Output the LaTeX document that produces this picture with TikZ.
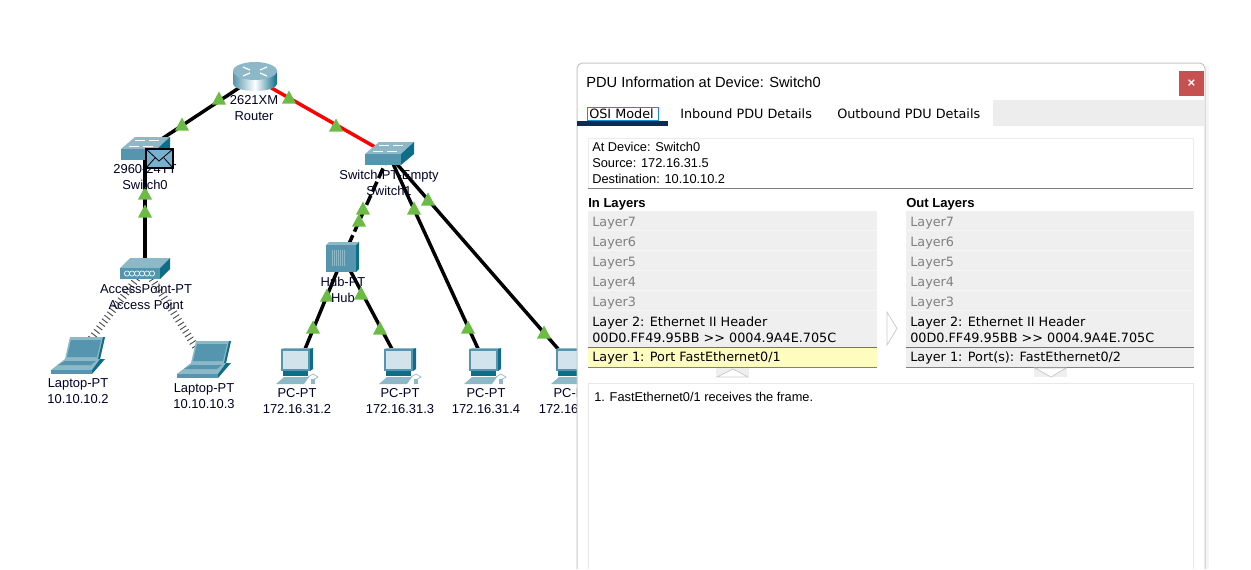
\documentclass[tikz,border=0pt]{standalone}
\usepackage{fontspec}
\usepackage{xcolor}
\setmainfont{Liberation Sans}
\newfontfamily\tabfont{DejaVu Sans}
\definecolor{toplight}{HTML}{8DB8C8}
\definecolor{frontmid}{HTML}{5596AE}
\definecolor{sidedark}{HTML}{0F6D88}
\definecolor{screenlight}{HTML}{D3E3EC}
\definecolor{lighttri}{HTML}{6CBB45}
\definecolor{panelgray}{HTML}{EFEFEF}
\definecolor{navybar}{HTML}{0F2B52}
\definecolor{closered}{HTML}{C75050}
\tikzset{
  link/.style={line width=2.6pt,black},
  devlabel/.style={inner sep=0pt,align=center,font=\fontsize{9.7}{12}\selectfont,text=black!85!blue},
  paneltext/.style={inner sep=0pt,anchor=west,font=\fontsize{9.6}{12}\selectfont},
  tabtext/.style={inner sep=0pt,anchor=west,font=\tabfont\fontsize{9.6}{12}\selectfont},
  layertext/.style={tabtext,text=gray},
  switchicon/.pic={
    \fill[toplight] (-24,-1) -- (-10,-13) -- (25,-13) -- (12,-1) -- cycle;
    \fill[frontmid] (-24,-1) rectangle (12,10);
    \fill[sidedark] (12,-1) -- (25,-13) -- (25,-1) -- (12,10) -- cycle;
    \draw[white,line width=0.6pt] (-16,-4) -- (-6,-4) (-10,-10) -- (0,-10) (4,-10) -- (14,-10) (-2,-4) -- (8,-4);
  },
  hubicon/.pic={
    \fill[toplight] (-17,-12) -- (-14,-15) -- (16,-15) -- (13,-12) -- cycle;
    \fill[frontmid] (-17,-12) rectangle (13,15);
    \fill[sidedark] (13,-12) -- (16,-15) -- (16,12) -- (13,15) -- cycle;
    \foreach \px in {-11,-9,-7,-5,-3,-1,1}
      \draw[toplight,line width=0.5pt] (\px,-7) -- (\px,9);
  },
  apicon/.pic={
    \fill[toplight] (-25,0) -- (-15,-10) -- (25,-10) -- (15,0) -- cycle;
    \fill[frontmid] (-25,0) rectangle (15,11);
    \fill[sidedark] (15,0) -- (25,-10) -- (25,1) -- (15,11) -- cycle;
    \foreach \px in {-18,-13,-8,-3,2,7}
      \draw[white,line width=0.5pt] (\px,5.5) circle (2.6);
  },
  laptopicon/.pic={
    % lid
    \fill[toplight] (-8,-19) -- (27,-19) -- (22,3) -- (-13,3) -- cycle;
    \fill[frontmid] (-7,-16) -- (23,-16) -- (19,1) -- (-11,1) -- cycle;
    \fill[sidedark] (27,-19) -- (22,3) -- (20,3) -- (25,-19) -- cycle;
    % base
    \fill[toplight] (-27,14) -- (-13,3) -- (22,3) -- (14,14) -- cycle;
    \fill[frontmid] (-20,9) -- (-13,5) -- (18,5) -- (13,9) -- cycle;
    \fill[frontmid] (-27,14) rectangle (14,18);
    \fill[sidedark] (14,14) -- (22,3) -- (27,3) -- (14,18) -- cycle;
  },
  pcicon/.pic={
    \fill[toplight] (-17,-17) -- (-14,-18) -- (15,-18) -- (12,-17) -- cycle;
    \fill[frontmid] (-17,-17) rectangle (12,5);
    \fill[sidedark] (12,-17) -- (15,-18) -- (15,3) -- (12,5) -- cycle;
    \fill[screenlight] (-15,-15) rectangle (10,3);
    % stand and keyboard
    \fill[sidedark] (-15,5) rectangle (10,10);
    \fill[toplight] (-22,18) -- (-14,11) -- (11,11) -- (6,18) -- cycle;
    \fill[toplight] (13,13) rectangle (17,18);
    \draw[toplight,line width=0.5pt] (10,11) -- (15,8) -- (20,11) -- (15,14);
  },
}
\begin{document}
\begin{tikzpicture}[x=0.75pt,y=-0.75pt]
  \useasboundingbox (0,0) rectangle (1251,569);
  % devices
  \coordinate (router) at (254,78);
  \coordinate (switch0) at (145,150);
  \coordinate (switch1) at (389,155);
  \coordinate (hub) at (343,257);
  \coordinate (ap) at (145,268);
  \coordinate (laptop0) at (78,356);
  \coordinate (laptop1) at (204,360);
  \coordinate (pc0) at (298,366);
  \coordinate (pc1) at (401,366);
  \coordinate (pc2) at (486,366);
  \coordinate (pc3) at (573,366);
  % links
  \draw[link] (router) -- (switch0);
  \draw[link,red] (router) -- (switch1);
  \draw[link] (switch0) -- (ap);
  \draw[link,dash pattern=on 8pt off 3pt] (switch1) -- (hub);
  \draw[link] (switch1) -- (pc2);
  \draw[link] (switch1) -- (pc3);
  \draw[link] (hub) -- (pc0);
  \draw[link] (hub) -- (pc1);
  \draw[black!70,line width=5.5pt,dash pattern=on 0.7pt off 2.6pt] (ap) -- (laptop0);
  \draw[black!70,line width=5.5pt,dash pattern=on 0.7pt off 2.6pt] (ap) -- (laptop1);
  % icons
  \shade[left color=frontmid,right color=sidedark,middle color=white] (233,71) -- (233,84) arc[start angle=180,end angle=0,x radius=22,y radius=7] -- (277,71) -- cycle;
  \fill[toplight] (255,71) ellipse [x radius=22,y radius=9];
  \draw[white,line width=0.9pt] (243,67) -- (250,70) (267,67) -- (260,70) (243,76) -- (250,73) (267,76) -- (260,73);
  \pic at (switch0) {switchicon};
  \pic at (switch1) {switchicon};
  \pic at (hub) {hubicon};
  \pic at (ap) {apicon};
  \pic at (laptop0) {laptopicon};
  \pic at (laptop1) {laptopicon};
  \pic at (pc0) {pcicon};
  \pic at (pc1) {pcicon};
  \pic at (pc2) {pcicon};
  \pic at (pc3) {pcicon};
  % link lights
  \foreach \tx/\ty in {219/98,182/124,289/97,336/125,145/193,145/211,363/208,359/220,414/208,428/199,468/327,544/332,327/295,313/327,361/293,380/328}
    \fill[lighttri] (\tx-7,\ty+6.5) -- (\tx+7,\ty+6.5) -- (\tx,\ty-6.5) -- cycle;
  % labels
  \node[devlabel] (routerlabel) at (254,108.5) {2621XM\\Router};
  \node[devlabel] (switch0label) at (145,177.5) {2960-24TT\\Switch0};
  \node[devlabel] (switch1label) at (389,182.5) {Switch-PT-Empty\\Switch1};
  \node[devlabel] (hublabel) at (343,289.5) {Hub-PT\\Hub};
  \node[devlabel] (aplabel) at (146,296.5) {AccessPoint-PT\\Access Point};
  \node[devlabel] (laptop0label) at (78,391.5) {Laptop-PT\\10.10.10.2};
  \node[devlabel] (laptop1label) at (204,396.5) {Laptop-PT\\10.10.10.3};
  \node[devlabel] (pc0label) at (297,401.5) {PC-PT\\172.16.31.2};
  \node[devlabel] (pc1label) at (400,401.5) {PC-PT\\172.16.31.3};
  \node[devlabel] (pc2label) at (486,401.5) {PC-PT\\172.16.31.4};
  \node[devlabel] (pc3label) at (573,401.5) {PC-PT\\172.16.31.5};
  % envelope
  \filldraw[fill=cyan!35!frontmid!80!white,draw=black,line width=1.5pt] (146,149) rectangle (173,168);
  \draw[black,line width=0.6pt] (146,149) -- (159,161) -- (173,149) (146,168) -- (155,158) (173,168) -- (164,158);
  % dialog
  \fill[black!4] (1205,66) rectangle (1209,569);
  \filldraw[fill=white,draw=black!22,rounded corners=4pt,line width=0.75pt] (577,569) -- (577,63) -- (1205,63) -- (1205,569);
  \node[inner sep=0pt,anchor=west,font=\fontsize{11}{12}\selectfont] (title) at (586,82) {PDU Information at Device: Switch0};
  \fill[closered] (1179,71) rectangle (1204,96);
  \node[inner sep=0pt,text=white,font=\bfseries\fontsize{10}{10}\selectfont] (closemark) at (1191.5,83.5) {×};
  % tabs
  \fill[black!7] (993,100) rectangle (1204.5,126);
  \fill[navybar] (577,121) rectangle (668,126);
  \draw[cyan!80!blue,line width=0.6pt] (587,107) rectangle (658,120);
  \node[tabtext] (ositab) at (589,113.5) {OSI Model};
  \node[tabtext] (intab) at (680,113.5) {Inbound PDU Details};
  \node[tabtext] (outtab) at (837,113.5) {Outbound PDU Details};
  % device info
  \draw[black!8,line width=0.75pt] (588,188) -- (588,138) -- (1193,138) -- (1193,188);
  \draw[black!50,line width=0.75pt] (588,188) -- (1193,188);
  \node[paneltext] (atdevice) at (592,147) {At Device: Switch0};
  \node[paneltext] (source) at (592,163) {Source: 172.16.31.5};
  \node[paneltext] (destination) at (592,179) {Destination: 10.10.10.2};
  \node[paneltext,font=\bfseries\fontsize{9.8}{12}\selectfont] (inhead) at (588,204) {In Layers};
  \node[paneltext,font=\bfseries\fontsize{9.8}{12}\selectfont] (outhead) at (906,204) {Out Layers};
  % layers
  \foreach \side/\lx/\rx in {in/588/877,out/906/1194} {
    \fill[black!4] (\lx,211) rectangle (\rx,311);
    \foreach \layer/\ly in {7/211,6/231,5/251,4/271,3/291} {
      \fill[panelgray] (\lx,\ly) rectangle (\rx,\ly+19);
      \node[layertext] (\side layer\layer) at (\lx+4,\ly+12) {Layer\layer};
    }
    \fill[panelgray] (\lx,311) rectangle (\rx,347);
    \draw[black!55,line width=0.75pt] (\lx,347) -- (\rx,347);
    \draw[black!50,line width=0.75pt] (\lx,367) -- (\rx,367);
    \node[tabtext] (\side layertwo) at (\lx+4,323) {Layer 2: Ethernet II Header};
    \node[tabtext] (\side layermac) at (\lx+4,338) {00D0.FF49.95BB >{}> 0004.9A4E.705C};
  }
  \fill[yellow!25!white] (588,347.5) rectangle (877,366.5);
  \fill[panelgray] (906,347.5) rectangle (1194,366.5);
  \node[tabtext] (inlayerone) at (592,358) {Layer 1: Port FastEthernet0/1};
  \node[tabtext] (outlayerone) at (910,358) {Layer 1: Port(s): FastEthernet0/2};
  % chevrons
  \fill[panelgray] (716,368) rectangle (749,377);
  \filldraw[fill=white,draw=black!20,line width=0.6pt] (717,377) -- (733,369) -- (748,377) -- cycle;
  \fill[panelgray] (1034,368) rectangle (1067,377);
  \filldraw[fill=white,draw=black!20,line width=0.6pt] (1035,368) -- (1051,377) -- (1066,368) -- cycle;
  \draw[black!20,line width=0.6pt] (887,312) -- (897,328.5) -- (887,345) -- cycle;
  % message box
  \draw[black!9,line width=0.75pt] (588,569) -- (588,383.5) -- (1193,383.5) -- (1193,569);
  \node[paneltext] (message) at (594,396.5) {1. FastEthernet0/1 receives the frame.};
\end{tikzpicture}
\end{document}
